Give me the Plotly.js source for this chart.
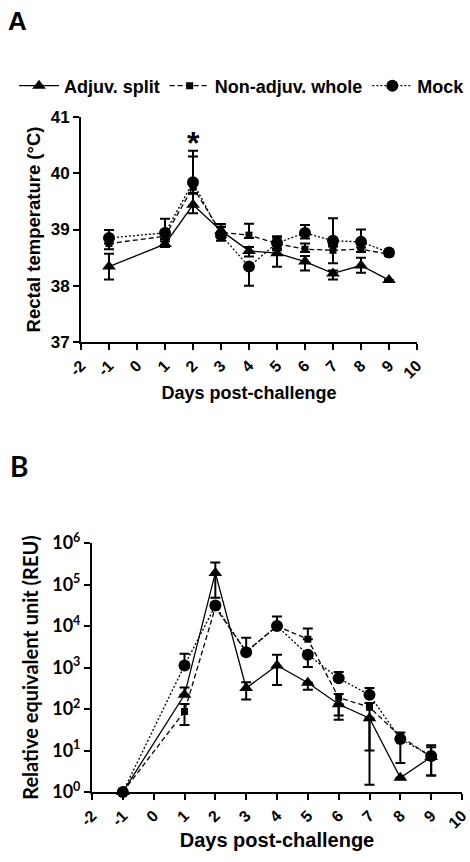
<!DOCTYPE html>
<html><head><meta charset="utf-8">
<script src="https://cdn.plot.ly/plotly-3.0.1.min.js"></script>
<style>html,body{margin:0;padding:0;background:#fff;}#chart{width:470px;height:862px;}</style>
</head><body><div id="chart"></div>
<script>
// ---------- data ----------
const days = [-1, 1, 2, 3, 4, 5, 6, 7, 8, 9];
const xTickVals = [-2, -1, 0, 1, 2, 3, 4, 5, 6, 7, 8, 9, 10];
const xTickText = ["-2", "-1", "0", "1", "2", "3", "4", "5", "6", "7", "8", "9", "10"];
const seriesNames = ["Adjuv. split", "Non-adjuv. whole", "Mock"];

// Panel A: rectal temperature (°C)
const tempAdjuvSplit      = [38.34, 38.74, 39.44, 38.98, 38.62, 38.58, 38.43, 38.22, 38.36, 38.10];
const tempAdjuvSplitUp    = [0.23, 0.05, 0.20, 0.12, 0.07, 0.05, 0.10, 0.05, 0.14, 0.00];
const tempAdjuvSplitDown  = [0.23, 0.05, 0.15, 0.10, 0.10, 0.24, 0.16, 0.11, 0.13, 0.00];
const tempNonAdjuv        = [38.75, 38.88, 39.75, 38.95, 38.90, 38.75, 38.65, 38.63, 38.65, 38.56];
const tempNonAdjuvUp      = [0.24, 0.10, 0.55, 0.10, 0.20, 0.13, 0.10, 0.10, 0.10, 0.03];
const tempNonAdjuvDown    = [0.10, 0.05, 0.10, 0.10, 0.05, 0.05, 0.05, 0.23, 0.05, 0.03];
const tempMock            = [38.85, 38.94, 39.84, 38.90, 38.34, 38.76, 38.94, 38.80, 38.78, 38.59];
const tempMockUp          = [0.14, 0.25, 0.56, 0.15, 0.00, 0.10, 0.14, 0.40, 0.22, 0.03];
const tempMockDown        = [0.10, 0.10, 0.20, 0.10, 0.34, 0.10, 0.10, 0.10, 0.10, 0.03];

// Panel B: relative equivalent unit (REU)
const reuAdjuvSplit       = [1, 220, 190000, 320, 1120, 430, 130, 60, 2.2, 7];
const reuAdjuvSplitUp     = [0, 110, 150000, 120, 920, 0, 0, 0, 0, 0];
const reuAdjuvSplitDown   = [0, 0, 142000, 150, 740, 140, 75, 58.5, 0, 0];
const reuNonAdjuv         = [1, 87, 28000, 2400, 10000, 4800, 190, 110, 22, 7];
const reuNonAdjuvUp       = [0, 45, 0, 0, 0, 3900, 40, 30, 5, 5];
const reuNonAdjuvDown     = [0, 46, 0, 0, 0, 0, 120, 100, 17, 4.5];
const reuMock             = [1, 1120, 31000, 2340, 10000, 2030, 550, 219, 19, 7.4];
const reuMockUp           = [0, 1020, 0, 2860, 7000, 0, 230, 100, 0, 6];
const reuMockDown         = [0, 0, 0, 0, 0, 1000, 0, 0, 0, 4.9];

const logTickVals = [1, 10, 100, 1000, 10000, 100000, 1000000];
const logTickText = ["10<sup>0</sup>", "10<sup>1</sup>", "10<sup>2</sup>", "10<sup>3</sup>",
                     "10<sup>4</sup>", "10<sup>5</sup>", "10<sup>6</sup>"];

// ---------- styling ----------
const ARIAL = "Liberation Sans, Arial, sans-serif";
const CALI = "Lato, Liberation Sans, sans-serif";
const styles = [
  {symbol: "triangle-up", size: 12, dash: "solid"},
  {symbol: "square", size: 7, dash: "5px,3px"},
  {symbol: "circle", size: 12, dash: "2px,2px"}
];

function mk(name, x, y, up, down, st, xa, ya, showlegend) {
  return {
    type: "scatter", mode: "lines+markers", name: name, x: x, y: y,
    xaxis: xa, yaxis: ya, showlegend: showlegend, cliponaxis: false,
    line: {color: "#000", width: 1.3, dash: st.dash},
    marker: {symbol: st.symbol, size: st.size, color: "#000"},
    error_y: {type: "data", symmetric: false, array: up, arrayminus: down,
              color: "#000", thickness: 2, width: 5}
  };
}

const traces = [
  mk(seriesNames[0], days, tempAdjuvSplit, tempAdjuvSplitUp, tempAdjuvSplitDown, styles[0], "x", "y", true),
  mk(seriesNames[1], days, tempNonAdjuv, tempNonAdjuvUp, tempNonAdjuvDown, styles[1], "x", "y", true),
  mk(seriesNames[2], days, tempMock, tempMockUp, tempMockDown, styles[2], "x", "y", true),
  mk(seriesNames[0], days, reuAdjuvSplit, reuAdjuvSplitUp, reuAdjuvSplitDown, styles[0], "x2", "y2", false),
  mk(seriesNames[1], days, reuNonAdjuv, reuNonAdjuvUp, reuNonAdjuvDown, styles[1], "x2", "y2", false),
  mk(seriesNames[2], days, reuMock, reuMockUp, reuMockDown, styles[2], "x2", "y2", false)
];

const W = 470, H = 862;
const px = v => v / W, py = v => 1 - v / H;
const boldTicks = xTickText.map(t => "<b>" + t + "</b>");

const axBase = {
  showline: true, linecolor: "#000", linewidth: 2, ticks: "outside",
  ticklen: 6, tickwidth: 2, tickcolor: "#000", showgrid: false, zeroline: false,
  automargin: false
};

const layout = {
  width: W, height: H, margin: {l: 0, r: 0, t: 0, b: 0},
  paper_bgcolor: "#fff", plot_bgcolor: "#fff",
  font: {family: ARIAL, color: "#000"},
  showlegend: true,
  legend: {orientation: "h", x: px(15), xanchor: "left", y: py(86), yanchor: "middle",
           font: {family: ARIAL, size: 18, color: "#000", weight: "bold"},
           itemwidth: 40, bgcolor: "rgba(0,0,0,0)", tracegroupgap: 0},
  xaxis: Object.assign({}, axBase, {
    domain: [px(81), px(417)], range: [-2, 10], anchor: "y",
    tickmode: "array", tickvals: xTickVals, ticktext: boldTicks, tickangle: -45,
    tickfont: {family: ARIAL, size: 16, weight: "bold"},
    title: {text: "Days post-challenge", font: {family: ARIAL, size: 18, weight: "bold"}, standoff: 6}
  }),
  yaxis: Object.assign({}, axBase, {
    domain: [py(342), py(117)], range: [37, 41], anchor: "x",
    tickmode: "array", tickvals: [37, 38, 39, 40, 41],
    tickfont: {family: ARIAL, size: 17, weight: "bold"},
    title: {text: "Rectal temperature (°C)", font: {family: ARIAL, size: 18.5, weight: "bold"}, standoff: 5}
  }),
  xaxis2: Object.assign({}, axBase, {
    domain: [px(92), px(462)], range: [-2, 10], anchor: "y2",
    tickmode: "array", tickvals: xTickVals, ticktext: boldTicks, tickangle: -45,
    tickfont: {family: ARIAL, size: 16, weight: "bold"},
    title: {text: "Days post-challenge", font: {family: ARIAL, size: 20, weight: "bold"}, standoff: 2}
  }),
  yaxis2: Object.assign({}, axBase, {
    type: "log", domain: [py(792), py(543)], range: [0, 6], anchor: "x2",
    tickmode: "array", tickvals: logTickVals, ticktext: logTickText,
    tickfont: {family: CALI, size: 18, weight: "bold"},
    title: {text: "Relative equivalent unit (REU)", font: {family: CALI, size: 20, weight: "bold"}, standoff: 8}
  }),
  annotations: [
    {text: "<b>A</b>", xref: "paper", yref: "paper", x: px(6), y: py(4), xanchor: "left", yanchor: "top",
     showarrow: false, font: {family: ARIAL, size: 26, color: "#000"}},
    {text: "<b>B</b>", xref: "paper", yref: "paper", x: px(8), y: py(447), xanchor: "left", yanchor: "top",
     showarrow: false, font: {family: CALI, size: 28, color: "#000"}},
    {text: "<b>*</b>", xref: "x", yref: "y", x: 2, y: 40.53, xanchor: "center", yanchor: "middle",
     showarrow: false, font: {family: ARIAL, size: 32, color: "#000"}}
  ]
};

Plotly.newPlot("chart", traces, layout, {displayModeBar: false, staticPlot: true});
</script>
</body></html>
